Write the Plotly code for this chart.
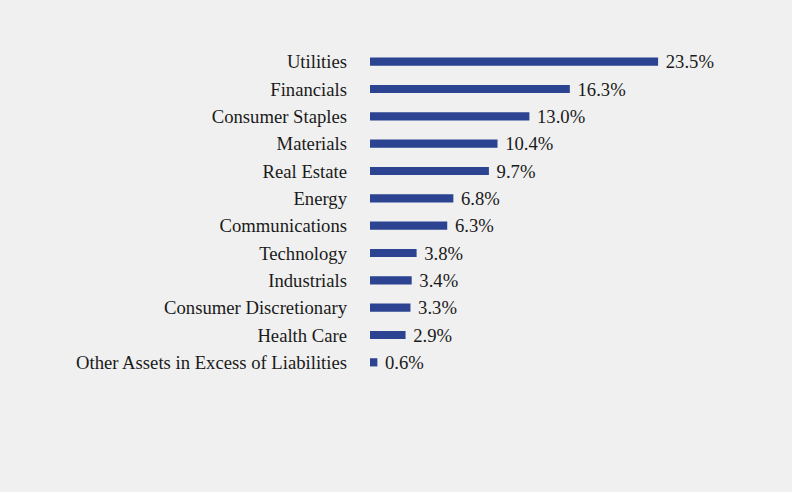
import plotly.graph_objects as go

categories = ["Utilities", "Financials", "Consumer Staples", "Materials", "Real Estate",
              "Energy", "Communications", "Technology", "Industrials",
              "Consumer Discretionary", "Health Care", "Other Assets in Excess of Liabilities"]
values = [23.5, 16.3, 13.0, 10.4, 9.7, 6.8, 6.3, 3.8, 3.4, 3.3, 2.9, 0.6]
labels = [f"{v:.1f}%" for v in values]

FONT = "Liberation Serif"

fig = go.Figure(go.Bar(
    x=values, y=categories, orientation="h",
    marker=dict(color="#2b4391", line=dict(width=0)),
    width=0.3,
    text=labels, texttemplate=" %{text}", textposition="outside",
    cliponaxis=False, constraintext="none",
    textfont=dict(family=FONT, size=18.67, color="#1a1a1a"),
    hoverinfo="skip",
))

fig.update_layout(
    width=792, height=492,
    paper_bgcolor="#f0f0f0", plot_bgcolor="#f0f0f0",
    margin=dict(l=370, r=91, t=48, b=116),
    showlegend=False,
    font=dict(family=FONT, size=18.67, color="#1a1a1a"),
)
fig.update_xaxes(range=[0, 27], visible=False)
fig.update_yaxes(autorange="reversed", showline=False, showgrid=False, zeroline=False,
                 ticks="", ticklabelstandoff=22)

fig.write_html("out.html",
               config={"displayModeBar": False},
               post_script="document.body.style.margin='0';document.body.style.padding='0';document.body.style.background='#f0f0f0';")
